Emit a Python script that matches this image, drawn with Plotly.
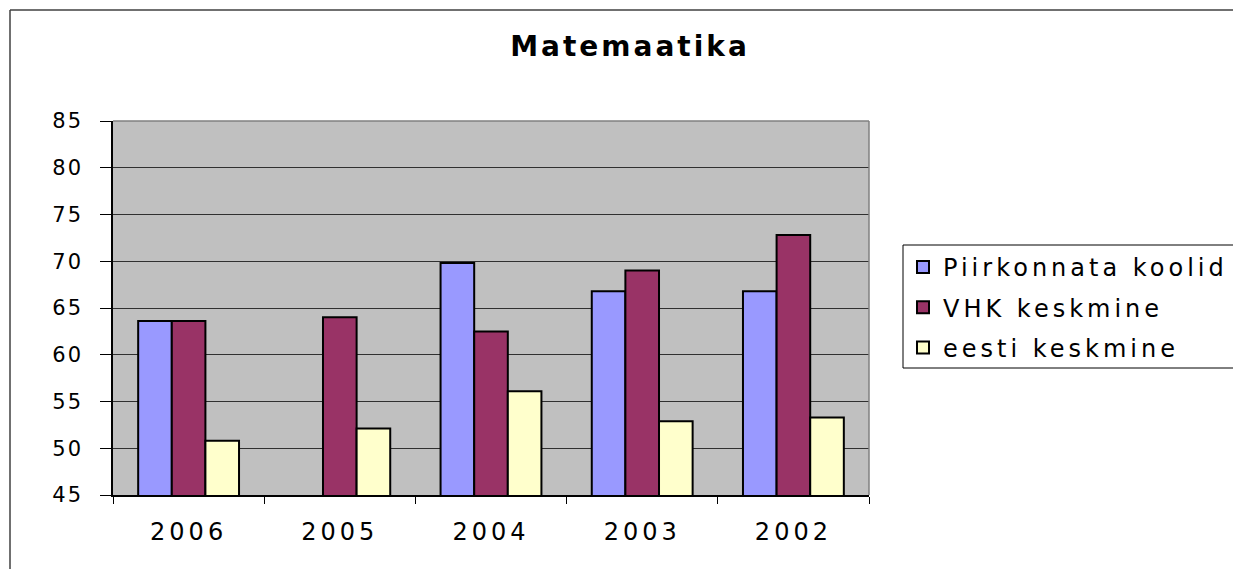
import plotly.graph_objects as go

years = ["2006", "2005", "2004", "2003", "2002"]
piirkonnata = [63.6, None, 69.8, 66.8, 66.8]
vhk = [63.6, 64.0, 62.5, 69.0, 72.8]
eesti = [50.8, 52.1, 56.1, 52.9, 53.3]

series_names = ["Piirkonnata koolid", "VHK keskmine", "eesti keskmine"]
colors = ["#9999FF", "#993366", "#FFFFCC"]

FONT = "DejaVu Sans, Arial, sans-serif"

fig = go.Figure()
for name, vals, col in zip(series_names, [piirkonnata, vhk, eesti], colors):
    fig.add_trace(go.Bar(
        x=years, y=vals, name=name, legendgroup=name,
        marker=dict(color=col, line=dict(color="black", width=2)),
    ))

W, H = 1233, 569
L, R, T, B = 113, 869, 121, 495
pw, ph = R - L, B - T

def px_x(p):
    return (p - L) / pw

def px_y(p):
    return (B - p) / ph

fig.update_layout(
    width=W, height=H,
    margin=dict(l=L, r=W - R, t=T, b=H - B, pad=0),
    paper_bgcolor="white",
    plot_bgcolor="#C0C0C0",
    barmode="group",
    bargap=0.333,
    bargroupgap=0,
    title=dict(text="<b>Matemaatika</b>", x=630 / W, xanchor="center",
               y=1 - 46 / H, yanchor="middle",
               font=dict(family=FONT, size=28, color="black")),
    showlegend=True,
    legend=dict(x=px_x(903), y=px_y(245), xanchor="left", yanchor="top",
                bgcolor="rgba(0,0,0,0)", borderwidth=0,
                font=dict(family=FONT, size=24, color="black"),
                tracegroupgap=6, traceorder="grouped",
                itemwidth=30),
    xaxis=dict(type="category", tickson="boundaries", ticks="outside",
               ticklen=7, tickcolor="black", tickwidth=1,
               showline=True, linecolor="black", linewidth=1.5,
               showgrid=False, ticklabelstandoff=14,
               tickfont=dict(family=FONT, size=24, color="black")),
    yaxis=dict(range=[45, 85], dtick=5, tick0=45, ticks="outside",
               ticklen=11, tickcolor="black", tickwidth=1,
               showline=True, linecolor="black", linewidth=1.5,
               showgrid=True, gridcolor="#303030", gridwidth=1.3,
               zeroline=False, ticklabelstandoff=13,
               tickfont=dict(family=FONT, size=21, color="black")),
    shapes=[
        # plot area top/right grey border
        dict(type="line", xref="paper", yref="paper", x0=0, x1=1, y0=1, y1=1,
             line=dict(color="#808080", width=1.5)),
        dict(type="line", xref="paper", yref="paper", x0=1, x1=1, y0=0, y1=1,
             line=dict(color="#808080", width=1.5)),
        # legend box (extends past the right edge as in the original)
        dict(type="rect", xref="paper", yref="paper",
             x0=px_x(903), x1=px_x(1260), y0=px_y(368), y1=px_y(245),
             line=dict(color="black", width=1), fillcolor="white", layer="below"),
        # outer chart frame (left and top)
        dict(type="line", xref="paper", yref="paper",
             x0=px_x(10), x1=px_x(10), y0=px_y(10), y1=px_y(575),
             line=dict(color="#404040", width=1.5)),
        dict(type="line", xref="paper", yref="paper",
             x0=px_x(10), x1=px_x(1240), y0=px_y(10), y1=px_y(10),
             line=dict(color="#404040", width=1.5)),
    ],
)

post = """
document.body.style.margin = '0';
var gd = document.getElementById('{plot_id}');
function spaceText() {
  gd.querySelectorAll('.gtitle').forEach(function(e){ e.style.letterSpacing = '3px'; });
  gd.querySelectorAll('.xtick text').forEach(function(e){ e.style.letterSpacing = '4px'; });
  gd.querySelectorAll('.ytick text').forEach(function(e){ e.style.letterSpacing = '2px'; });
  gd.querySelectorAll('.legendtext').forEach(function(e){ e.style.letterSpacing = '4px'; });
  gd.querySelectorAll('.legend [clip-path]').forEach(function(e){ e.removeAttribute('clip-path'); });
}
spaceText();
gd.on('plotly_afterplot', spaceText);
"""

fig.write_html("out.html", post_script=post, config={"displayModeBar": False})
